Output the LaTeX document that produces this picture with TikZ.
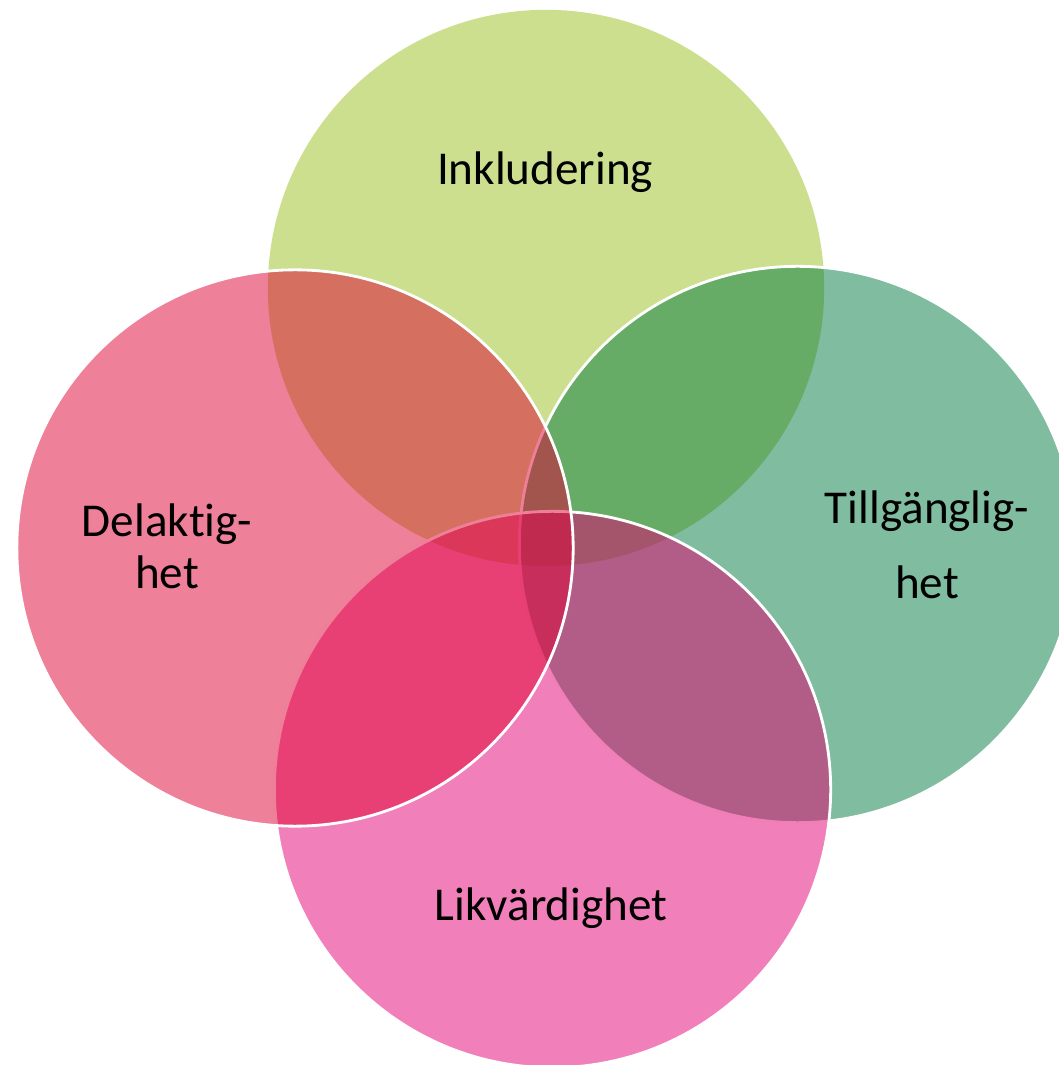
\documentclass[tikz,border=0pt]{standalone}
\usepackage{fontspec}
\setmainfont[Ligatures={NoCommon,NoContextual,NoRare}]{Carlito}
\definecolor{inklgreen}{HTML}{CCDF8F}
\definecolor{tillgreen}{HTML}{01793F}
\definecolor{likvpink}{HTML}{E30073}
\definecolor{delared}{HTML}{DF0133}
\begin{document}
\begin{tikzpicture}
    [x=0.01cm,y=-0.01cm,
     ring/.style={circle,minimum size=5.56cm,inner sep=0pt},
     seethru/.style={ring,draw=white,line width=0.8pt,fill opacity=0.5},
     word/.style={font=\fontsize{13.4}{14.6}\selectfont,align=center,inner sep=0pt,anchor=base}]
    \useasboundingbox (0,0) rectangle (1058,1065);
    % the four circles, top one first
    \node (incl) [ring,fill=inklgreen] at (546,288) {};
    \node (till) [seethru,fill=tillgreen] at (797.5,544.5) {};
    \node (likv) [seethru,fill=likvpink] at (552.5,789.5) {};
    \node (dela) [seethru,fill=delared] at (295,548) {};
    % labels (base = last line)
    \node (inkltext) [word] at (545,185) {Inkludering};
    \node (delatext) [word] at (167,588) {Delak\kern0pt tig-\\het};
    \node (tilltext) [word] at (927,598) {Tillgänglig-\\[6.5pt]het};
    \node (likvtext) [word] at (551,920) {Likvärdighet};
\end{tikzpicture}
\end{document}
